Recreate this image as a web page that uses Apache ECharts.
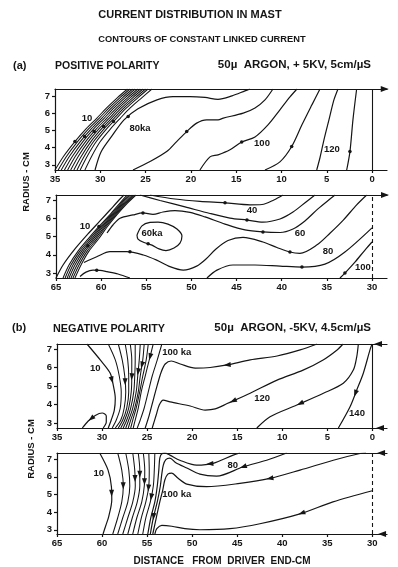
<!DOCTYPE html>
<html>
<head>
<meta charset="utf-8">
<title>Current distribution in MAST</title>
<script src="https://cdn.jsdelivr.net/npm/echarts@6.0.0/dist/echarts.min.js"></script>
<style>
  html, body { margin: 0; padding: 0; background: #fff; }
  #main { width: 398px; height: 567px; }
</style>
</head>
<body>
<div id="main"></div>
<script>
const INK = '#151515';
const FONT = '"Liberation Sans", "DejaVu Sans", sans-serif';

// tick labels
const distUpper = [35, 30, 25, 20, 15, 10, 5, 0];
const distLower = [65, 60, 55, 50, 45, 40, 35, 30];
const radiusTicks = [3, 4, 5, 6, 7];

// ---------- (a) positive polarity, 35..0 cm  (points are [distance, radius])
const posUpBundleR = [2.7, 3.5, 4.35, 5.1, 5.7, 6.3, 6.9, 7.4];
const posUpBundle = [
  [35.0, 34.05, 32.8, 31.55, 30.4, 29.3, 28.1, 27.0],
  [34.65, 33.72, 32.51, 31.27, 30.13, 29.03, 27.82, 26.72],
  [34.31, 33.4, 32.21, 30.98, 29.85, 28.75, 27.53, 26.43],
  [33.96, 33.07, 31.92, 30.7, 29.58, 28.48, 27.25, 26.15],
  [33.61, 32.75, 31.62, 30.41, 29.3, 28.2, 26.96, 25.86],
  [33.27, 32.42, 31.33, 30.13, 29.03, 27.93, 26.68, 25.58],
  [32.92, 32.09, 31.03, 29.85, 28.76, 27.66, 26.4, 25.3],
  [32.57, 31.77, 30.74, 29.56, 28.48, 27.38, 26.11, 25.01],
  [32.22, 31.44, 30.44, 29.28, 28.21, 27.11, 25.83, 24.73],
  [31.7, 30.95, 30.0, 28.85, 27.8, 26.7, 25.4, 24.3]
];
const posUpA = [[30.58, 2.7], [29.92, 3.75], [28.71, 4.68], [27.38, 5.61], [25.84, 6.25], [23.74, 6.77], [21.98, 6.96], [20.1, 6.96], [18.44, 6.91], [17.01, 6.8], [15.46, 7.0], [14.03, 7.29], [13.48, 7.4]];
const posUpC = [[26.39, 2.7], [24.51, 3.19], [22.67, 3.77], [21.57, 4.35], [20.46, 4.93], [19.36, 5.42], [18.26, 5.61], [17.0, 5.61], [16.42, 5.71], [14.22, 6.0], [12.92, 6.3], [11.82, 6.77], [10.94, 7.4]];
const posUpD = [[19.0, 2.7], [17.89, 3.46], [17.0, 3.58], [15.68, 3.87], [14.39, 4.32], [12.92, 4.62], [11.49, 5.32], [10.17, 6.19], [9.06, 6.94], [8.29, 7.4]];
const posUpE = [[11.82, 2.7], [10.17, 3.17], [8.87, 4.06], [7.74, 5.32], [6.64, 6.48], [5.75, 7.4]];
const posUpF = [[6.11, 2.7], [5.75, 3.41], [5.31, 4.45], [4.76, 5.61], [4.21, 6.77], [3.76, 7.4]];
const posUpG = [[2.8, 2.7], [2.44, 3.77], [2.11, 5.61], [1.7, 7.4]];
const posUpLabels = [[31.47, 5.67, '10'], [25.62, 5.14, '80ka'], [12.15, 4.22, '100'], [4.43, 3.87, '120']];
const posUpDots = [[32.8, 4.35], [31.73, 4.64], [30.68, 4.93], [29.63, 5.22], [28.55, 5.51], [26.92, 5.8], [20.46, 4.93], [14.39, 4.32], [8.87, 4.06], [2.44, 3.77]];
const posUpEdge = [[-1.4, 7.4, -90]];

// ---------- (a) positive polarity, 65..30 cm
const posLowBundleR = [2.73, 3.44, 4.2, 4.86, 5.55, 6.2, 6.8, 7.27];
const posLowBundle = [
  [64.22, 63.56, 62.56, 61.46, 60.24, 59.02, 57.97, 57.14],
  [63.99, 63.34, 62.36, 61.26, 60.08, 58.89, 57.83, 56.98],
  [63.76, 63.12, 62.16, 61.07, 59.92, 58.76, 57.69, 56.81],
  [63.56, 62.9, 61.96, 60.88, 59.77, 58.63, 57.55, 56.64],
  [63.34, 62.67, 61.76, 60.68, 59.61, 58.5, 57.41, 56.48],
  [63.12, 62.45, 61.55, 60.49, 59.46, 58.37, 57.28, 56.31],
  [62.9, 62.23, 61.35, 60.29, 59.3, 58.24, 57.14, 56.14]
];
const posLowOuter = [[65.0, 2.73], [64.22, 3.44], [62.9, 4.32], [61.46, 5.14], [60.13, 5.85], [59.02, 6.45], [57.91, 7.05], [57.47, 7.27]];
const posLowBump = [[62.34, 2.81], [61.68, 3.05], [60.9, 3.16], [60.13, 3.15], [59.35, 3.08], [58.13, 2.95], [56.81, 2.73]];
const posLowT1 = [[54.59, 7.27], [51.82, 7.05], [49.05, 6.92], [46.28, 6.84], [43.52, 6.73], [42.19, 6.75], [40.87, 7.0], [39.86, 7.27]];
const posLowT2 = [[55.7, 7.27], [53.48, 6.97], [50.71, 6.62], [47.95, 6.26], [45.73, 6.01], [43.85, 5.9], [42.08, 5.79], [40.19, 5.96], [38.75, 6.34], [37.31, 6.89], [36.32, 7.27]];
const posLowT3 = [[59.35, 5.19], [58.69, 5.63], [57.91, 6.0], [56.47, 6.18], [55.37, 6.29], [54.26, 6.21], [53.15, 6.34], [51.82, 6.42], [50.16, 6.32], [48.5, 6.07], [46.28, 5.68], [44.07, 5.36], [42.08, 5.25], [40.19, 5.22], [38.75, 5.41], [37.43, 5.85], [35.99, 6.51], [34.66, 7.05], [34.1, 7.27]];
const posLowT4 = [[61.9, 3.58], [60.49, 3.89], [59.02, 4.17], [57.17, 4.17], [55.33, 3.99], [53.85, 3.71], [52.38, 3.35], [50.9, 3.16], [49.42, 3.38], [48.39, 3.77], [47.28, 4.32], [45.95, 4.78], [44.29, 4.95], [42.08, 4.7], [40.53, 4.4], [39.09, 4.15], [37.98, 4.08], [36.13, 4.53], [34.66, 5.18], [33.18, 5.9], [31.7, 6.73], [30.59, 7.27]];
const posLowT5 = [[48.28, 2.73], [47.17, 3.16], [45.4, 3.44], [42.96, 3.44], [40.19, 3.38], [37.76, 3.33], [35.21, 3.49], [33.0, 4.15], [30.0, 5.47]];
const posLow100 = [[33.55, 2.73], [33.0, 3.0], [31.89, 3.6], [30.78, 4.26], [30.0, 4.7]];
const posLowIsland = [[56.03, 5.08], [55.48, 5.58], [54.59, 5.77], [53.7, 5.79], [52.6, 5.68], [51.6, 5.41], [51.05, 5.03], [51.27, 4.64], [51.93, 4.37], [52.82, 4.23], [53.59, 4.32], [54.37, 4.53], [55.25, 4.67], [55.92, 4.86], [56.03, 5.08]];
const posLowLabels = [[61.79, 5.58, '10'], [54.37, 5.19, '60ka'], [43.3, 6.45, '40'], [37.98, 5.15, '60'], [34.88, 4.18, '80'], [31.0, 3.33, '100']];
const posLowDots = [[46.28, 6.84], [43.85, 5.9], [55.37, 6.29], [42.08, 5.25], [56.81, 4.17], [39.09, 4.15], [37.76, 3.33], [60.49, 3.15], [54.8, 4.6], [61.47, 4.5], [60.24, 5.55], [33.0, 3.0]];
const posLowEdge = [[28.56, 7.27, -90]];

// ---------- (b) negative polarity, 35..0 cm
const negUpTen = [[31.67, 7.27], [30.2, 6.41], [29.09, 5.69], [28.72, 4.96], [28.53, 4.34], [28.64, 3.7], [28.98, 3.16], [29.31, 2.73]];
const negUpFanR = [7.27, 6.41, 5.54, 4.68, 3.81, 3.16, 2.73];
const negUpFan = [
  [29.31, 28.53, 28.09, 27.87, 27.98, 28.42, 28.87],
  [28.2, 27.76, 27.48, 27.37, 27.54, 27.92, 28.53],
  [27.43, 27.15, 27.04, 27.04, 27.26, 27.7, 28.2],
  [26.87, 26.7, 26.7, 26.76, 27.04, 27.48, 27.92],
  [26.32, 26.32, 26.37, 26.48, 26.82, 27.26, 27.65],
  [25.76, 25.87, 26.04, 26.21, 26.59, 27.04, 27.37],
  [25.32, 25.48, 25.76, 25.98, 26.37, 26.82, 27.09],
  [24.87, 25.1, 25.48, 25.82, 26.21, 26.59, 26.82],
  [24.32, 24.76, 25.21, 25.65, 25.98, 26.32, 26.54],
  [23.36, 23.87, 24.43, 24.87, 25.32, 25.76, 26.09]
];
const negUpU1 = [[25.21, 2.73], [24.76, 3.43], [24.32, 4.24], [23.87, 5.05], [23.43, 5.76], [22.99, 6.19], [22.32, 6.35], [21.32, 6.19], [19.66, 5.97], [18.0, 6.0], [16.11, 6.14], [13.56, 6.41], [10.57, 6.62], [8.01, 6.95], [6.13, 7.27]];
const negUpU2 = [[24.43, 2.73], [23.99, 3.43], [23.65, 3.97], [23.21, 4.24], [22.44, 4.14], [20.22, 3.92], [18.55, 3.7], [17.44, 3.76], [16.11, 4.05], [13.56, 4.61], [10.57, 5.32], [7.68, 5.86], [5.46, 6.41], [3.91, 6.95], [3.25, 7.27]];
const negUpV = [[12.82, 2.73], [11.35, 3.34], [8.38, 3.97], [5.43, 4.61], [3.22, 5.15], [2.11, 5.86], [1.73, 6.58], [1.55, 7.27]];
const negUp140 = [[3.77, 2.73], [2.47, 3.88], [1.73, 4.78], [1.0, 5.69], [0.26, 6.95], [0.03, 7.27]];
const negUpBump = [[32.19, 2.73], [31.53, 3.11], [30.75, 3.41], [29.98, 3.54], [29.53, 3.38], [29.53, 3.05], [29.87, 2.73]];
const negUpLabels = [[30.76, 5.97, '10'], [21.7, 6.84, '100 ka'], [12.23, 4.35, '120'], [1.7, 3.5, '140']];
const negUpArrows = [[28.9, 5.32, 195], [27.44, 5.23, 180], [26.7, 5.5, 175], [26.0, 5.77, 170], [25.57, 6.14, 165], [24.67, 6.58, 165],
  [16.11, 6.14, 95], [15.45, 4.19, 115], [8.01, 4.05, 115], [1.88, 4.6, 160], [31.2, 3.24, 130]];
const negUpEdge = [[-0.63, 7.27, 90], [-0.85, 2.73, 90]];

// ---------- (b) negative polarity, 65..30 cm
const negLowTen = [[60.26, 7.35], [59.33, 6.38], [58.96, 5.44], [58.92, 4.69], [59.26, 3.75], [59.59, 3.23], [59.89, 2.76]];
const negLowFanR = [7.35, 6.38, 5.48, 4.58, 3.68, 2.76];
const negLowFan = [
  [58.26, 57.81, 57.64, 57.81, 58.26, 58.81],
  [57.37, 57.03, 56.92, 57.14, 57.7, 58.26],
  [56.59, 56.37, 56.31, 56.59, 57.14, 57.7],
  [55.98, 55.81, 55.81, 56.09, 56.64, 57.14],
  [55.42, 55.26, 55.31, 55.59, 56.14, 56.59],
  [54.81, 54.76, 54.81, 55.14, 55.64, 56.03],
  [54.14, 54.2, 54.31, 54.64, 55.14, 55.48]
];
const negLowH1 = [[54.92, 2.76], [54.59, 3.68], [54.14, 4.58], [53.87, 5.48], [53.7, 6.38], [53.59, 7.06], [53.37, 7.31], [53.03, 7.34], [52.48, 7.23], [51.37, 6.94], [49.51, 6.66], [47.67, 6.76], [45.44, 7.23], [44.7, 7.35]];
const negLowH2 = [[54.64, 2.76], [54.31, 3.68], [53.87, 4.58], [53.53, 5.48], [53.37, 6.15], [53.2, 6.66], [52.92, 6.97], [52.48, 7.06], [51.81, 6.8], [50.59, 6.5], [49.14, 6.15], [47.29, 6.04], [44.33, 6.57], [41.73, 6.94], [39.51, 7.35]];
const negLowH3 = [[54.37, 2.76], [53.98, 3.68], [53.59, 4.58], [53.26, 5.25], [53.03, 5.82], [52.7, 6.15], [52.26, 6.21], [51.59, 5.93], [50.59, 5.59], [48.4, 5.44], [44.7, 5.63], [41.37, 5.91], [38.03, 6.38], [34.33, 6.94], [31.37, 7.32], [30.7, 7.35]];
const negLowH4 = [[54.14, 2.76], [53.92, 3.06], [53.37, 3.25], [52.26, 3.2], [50.81, 3.06], [49.14, 3.0], [45.81, 3.06], [42.48, 3.34], [38.03, 3.9], [34.37, 4.58], [30.0, 5.21]];
const negLowLabels = [[60.37, 6.19, '10'], [45.48, 6.66, '80'], [51.7, 5.03, '100 ka']];
const negLowArrows = [[58.94, 5.07, 180], [57.65, 5.5, 180], [56.34, 5.91, 180], [55.81, 6.15, 180], [55.29, 5.72, 180], [54.85, 5.37, 175], [54.54, 4.86, 170], [54.28, 3.75, 175],
  [48.03, 6.74, 95], [44.33, 6.57, 110], [41.37, 5.91, 100], [37.84, 3.94, 110]];
const negLowEdge = [[29.03, 7.35, 90], [28.92, 2.76, 90]];

// ---------- layout of the four windows
const layout = [
  { left: 55, top: 89, width: 332, height: 81, x: [-1.65, 35], y: [2.7, 7.4], ticks: distUpper, edge: 0, dash: false },
  { left: 56, top: 195, width: 331, height: 83, x: [28.34, 65], y: [2.73, 7.27], ticks: distLower, edge: 30, dash: true },
  { left: 57, top: 344, width: 330, height: 84, x: [-1.63, 35], y: [2.73, 7.27], ticks: distUpper, edge: 0, dash: false },
  { left: 57, top: 453, width: 330, height: 81, x: [28.37, 65], y: [2.76, 7.35], ticks: distLower, edge: 30, dash: true }
];

const pairs = (ds, rs) => ds.map((d, i) => [d, rs[i]]);

function contour(data, g, width) {
  return {
    type: 'line', xAxisIndex: g * 2, yAxisIndex: g, data: data,
    symbol: 'none', smooth: 0.3, silent: true, z: 3,
    lineStyle: { color: INK, width: width || 1.2, opacity: 1 }
  };
}
function labels(items, g) {
  return {
    type: 'scatter', xAxisIndex: g * 2, yAxisIndex: g, symbolSize: 0, silent: true, clip: false, z: 6,
    itemStyle: { color: INK, opacity: 1 },
    data: items.map(t => ({ value: [t[0], t[1]], name: t[2] })),
    label: {
      show: true, position: 'inside', formatter: p => p.name, color: INK, opacity: 1,
      textBorderWidth: 0, textBorderColor: 'transparent', textShadowBlur: 0,
      fontSize: 9.5, fontWeight: 'bold', fontFamily: FONT
    }
  };
}
function heads(items, g, shape, size) {
  return {
    type: 'scatter', xAxisIndex: g * 2, yAxisIndex: g, silent: true, clip: false, z: 5,
    symbol: shape, symbolSize: size, itemStyle: { color: INK, opacity: 1 },
    data: items.map(a => ({ value: [a[0], a[1]], symbolRotate: a[2] || 0 }))
  };
}
function edge(items, g) {
  const p = layout[g];
  const s = heads(items, g, 'triangle', [6, 8]);
  s.markLine = {
    silent: true, symbol: ['none', 'none'], label: { show: false }, animation: false,
    lineStyle: { color: INK, width: 1.1, opacity: 1, type: p.dash ? [4, 3] : 'solid' },
    data: [{ xAxis: p.edge }]
  };
  return s;
}

const series = [];
posUpBundle.forEach(ds => series.push(contour(pairs(ds, posUpBundleR), 0, 1.05)));
[posUpA, posUpC, posUpD, posUpE, posUpF, posUpG].forEach(l => series.push(contour(l, 0)));
series.push(labels(posUpLabels, 0), heads(posUpDots, 0, 'circle', 3.5), edge(posUpEdge, 0));

posLowBundle.forEach(ds => series.push(contour(pairs(ds, posLowBundleR), 1, 1.05)));
[posLowOuter, posLowBump, posLowT1, posLowT2, posLowT3, posLowT4, posLowT5, posLow100, posLowIsland].forEach(l => series.push(contour(l, 1)));
series.push(labels(posLowLabels, 1), heads(posLowDots, 1, 'circle', 3.5), edge(posLowEdge, 1));

series.push(contour(negUpTen, 2));
negUpFan.forEach(ds => series.push(contour(pairs(ds, negUpFanR), 2, 1.05)));
[negUpU1, negUpU2, negUpV, negUp140, negUpBump].forEach(l => series.push(contour(l, 2)));
series.push(labels(negUpLabels, 2), heads(negUpArrows, 2, 'triangle', [5, 7]), edge(negUpEdge, 2));

series.push(contour(negLowTen, 3));
negLowFan.forEach(ds => series.push(contour(pairs(ds, negLowFanR), 3, 1.05)));
[negLowH1, negLowH2, negLowH3, negLowH4].forEach(l => series.push(contour(l, 3)));
series.push(labels(negLowLabels, 3), heads(negLowArrows, 3, 'triangle', [5, 7]), edge(negLowEdge, 3));

const grid = [], xAxis = [], yAxis = [];
const axisLine = { color: INK, width: 1.2 };
const tickFont = { color: INK, fontSize: 9.5, fontWeight: 'bold', fontFamily: FONT };
layout.forEach((p, g) => {
  grid.push({ left: p.left, top: p.top, width: p.width, height: p.height, containLabel: false, outerBoundsMode: 'none' });
  xAxis.push({
    gridIndex: g, type: 'value', min: p.x[0], max: p.x[1], inverse: true, position: 'bottom',
    axisLine: { onZero: false, lineStyle: axisLine }, splitLine: { show: false },
    axisTick: { show: true, length: 3, lineStyle: axisLine, customValues: p.ticks },
    axisLabel: Object.assign({ customValues: p.ticks, margin: 4 }, tickFont)
  });
  xAxis.push({
    gridIndex: g, type: 'value', min: p.x[0], max: p.x[1], inverse: true, position: 'top',
    axisLine: { onZero: false, lineStyle: axisLine }, axisTick: { show: false }, axisLabel: { show: false }, splitLine: { show: false }
  });
  yAxis.push({
    gridIndex: g, type: 'value', min: p.y[0], max: p.y[1], position: 'left',
    axisLine: { show: true, onZero: false, lineStyle: axisLine }, splitLine: { show: false },
    axisTick: { show: true, length: 3, lineStyle: axisLine, customValues: radiusTicks },
    axisLabel: Object.assign({ customValues: radiusTicks, margin: 5 }, tickFont)
  });
});

function txt(x, y, text, size, align, rot) {
  return {
    type: 'text', x: x, y: y, rotation: rot || 0, silent: true,
    style: { text: text, fill: INK, font: 'bold ' + size + 'px ' + FONT, textAlign: align || 'center', textVerticalAlign: 'middle' }
  };
}

const chart = echarts.init(document.getElementById('main'), null, { renderer: 'canvas' });
chart.setOption({
  animation: false,
  backgroundColor: '#fff',
  grid: grid, xAxis: xAxis, yAxis: yAxis, series: series,
  graphic: [
    txt(190, 15, 'CURRENT DISTRIBUTION IN MAST', 11),
    txt(202, 39, 'CONTOURS OF CONSTANT LINKED CURRENT', 9.3),
    txt(13, 66, '(a)', 11, 'left'),
    txt(55, 66, 'POSITIVE POLARITY', 10.5, 'left'),
    txt(371, 65, '50µ  ARGON, + 5KV, 5cm/µS', 11.5, 'right'),
    txt(26, 182, 'RADIUS - CM', 9.5, 'center', Math.PI / 2),
    txt(12, 328, '(b)', 11, 'left'),
    txt(53, 329, 'NEGATIVE POLARITY', 10.8, 'left'),
    txt(371, 328, '50µ  ARGON, -5KV, 4.5cm/µS', 11.5, 'right'),
    txt(31, 449, 'RADIUS - CM', 9.5, 'center', Math.PI / 2),
    txt(222, 561, 'DISTANCE   FROM  DRIVER  END-CM', 10)
  ]
});
</script>
</body>
</html>
